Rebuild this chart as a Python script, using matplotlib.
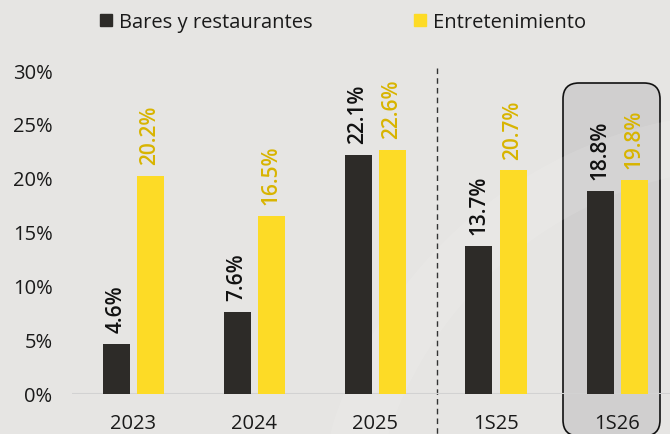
import matplotlib
matplotlib.use("Agg")
import matplotlib.pyplot as plt
from matplotlib.patches import FancyBboxPatch, Rectangle
import numpy as np

categories = ["2023", "2024", "2025", "1S25", "1S26"]
bares = [4.6, 7.6, 22.1, 13.7, 18.8]
entretenimiento = [20.2, 16.5, 22.6, 20.7, 19.8]
series_names = ["Bares y restaurantes", "Entretenimiento"]
yticks = [0, 5, 10, 15, 20, 25, 30]

BG = "#e6e5e3"
DARK = "#2d2b28"
YEL = "#fddb26"
YEL_TXT = "#d8b400"

plt.rcParams['font.family'] = ['Open Sans', 'DejaVu Sans']

W, H = 670, 435
fig = plt.figure(figsize=(W / 100, H / 100), dpi=100, facecolor=BG)

# faint watermark swirl
wm = fig.add_axes([0, 0, 1, 1], zorder=0)
wm.set_xlim(0, W); wm.set_ylim(H, 0); wm.axis("off")
t = np.linspace(np.pi * 0.95, np.pi * 1.6, 100)
cx, cy, r = 760, 560, 420
wm.plot(cx + r * np.cos(t), cy + r * np.sin(t), color="white", lw=40, alpha=0.10, solid_capstyle="round")

# highlight box for 1S26 (pixel coords)
box = FancyBboxPatch((563, 84), 97, 353, boxstyle="round,pad=0,rounding_size=16",
                     transform=wm.transData, facecolor="#d0cfcf", edgecolor="#111111",
                     linewidth=1.2, zorder=1, clip_on=False)
wm.add_patch(box)
# dashed separator
wm.plot([437, 437], [69, 435], color="#333333", lw=1.0, ls=(0, (4, 3)))

# main axes: x from 72px to 670px, y from 395px (0%) to 71px (30%)
left, right = 72, 670
y0, y30 = 395, 71
ax = fig.add_axes([left / W, 1 - y0 / H, (right - left) / W, (y0 - y30) / H], zorder=2)
ax.set_facecolor("none")
x = np.arange(len(categories))
step = 121.0
ax.set_xlim(-(133 - left) / step, (right - 133) / step)
ax.set_ylim(0, 30)

bw = 27 / step
off = 17 / step
ax.bar(x - off, bares, width=bw, color=DARK, zorder=3)
ax.bar(x + off, entretenimiento, width=bw, color=YEL, zorder=3)

pad = 1.1
for xi, v in zip(x, bares):
    ax.text(xi - off, v + pad, f"{v:.1f}%", rotation=90, ha="center", va="bottom",
            fontsize=15, fontweight="semibold", color="#111111", zorder=4)
for xi, v in zip(x, entretenimiento):
    ax.text(xi + off, v + pad, f"{v:.1f}%", rotation=90, ha="center", va="bottom",
            fontsize=15, fontweight="semibold", color=YEL_TXT, zorder=4)

ax.axhline(0, color="#d2d2d2", lw=1.5, zorder=2)

for s in ax.spines.values():
    s.set_visible(False)
ax.set_yticks(yticks)
ax.set_yticklabels([f"{v}%" for v in yticks])
ax.set_xticks(x)
ax.set_xticklabels(categories)
ax.tick_params(axis="both", length=0, labelsize=14.5, colors="#1a1a1a")
ax.tick_params(axis="y", pad=14)
ax.tick_params(axis="x", pad=14)
for lbl in ax.get_yticklabels():
    lbl.set_horizontalalignment("right")

handles = [Rectangle((0, 0), 1, 1, color=DARK), Rectangle((0, 0), 1, 1, color=YEL)]
fig.legend(handles, series_names, loc="center", bbox_to_anchor=(343 / W, 1 - 23 / H),
           ncol=2, frameon=False, fontsize=14.5, handlelength=0.6, handleheight=0.6,
           handletextpad=0.35, columnspacing=5.0, labelcolor="#1a1a1a")

fig.savefig("out.png", dpi=100, facecolor=BG)
